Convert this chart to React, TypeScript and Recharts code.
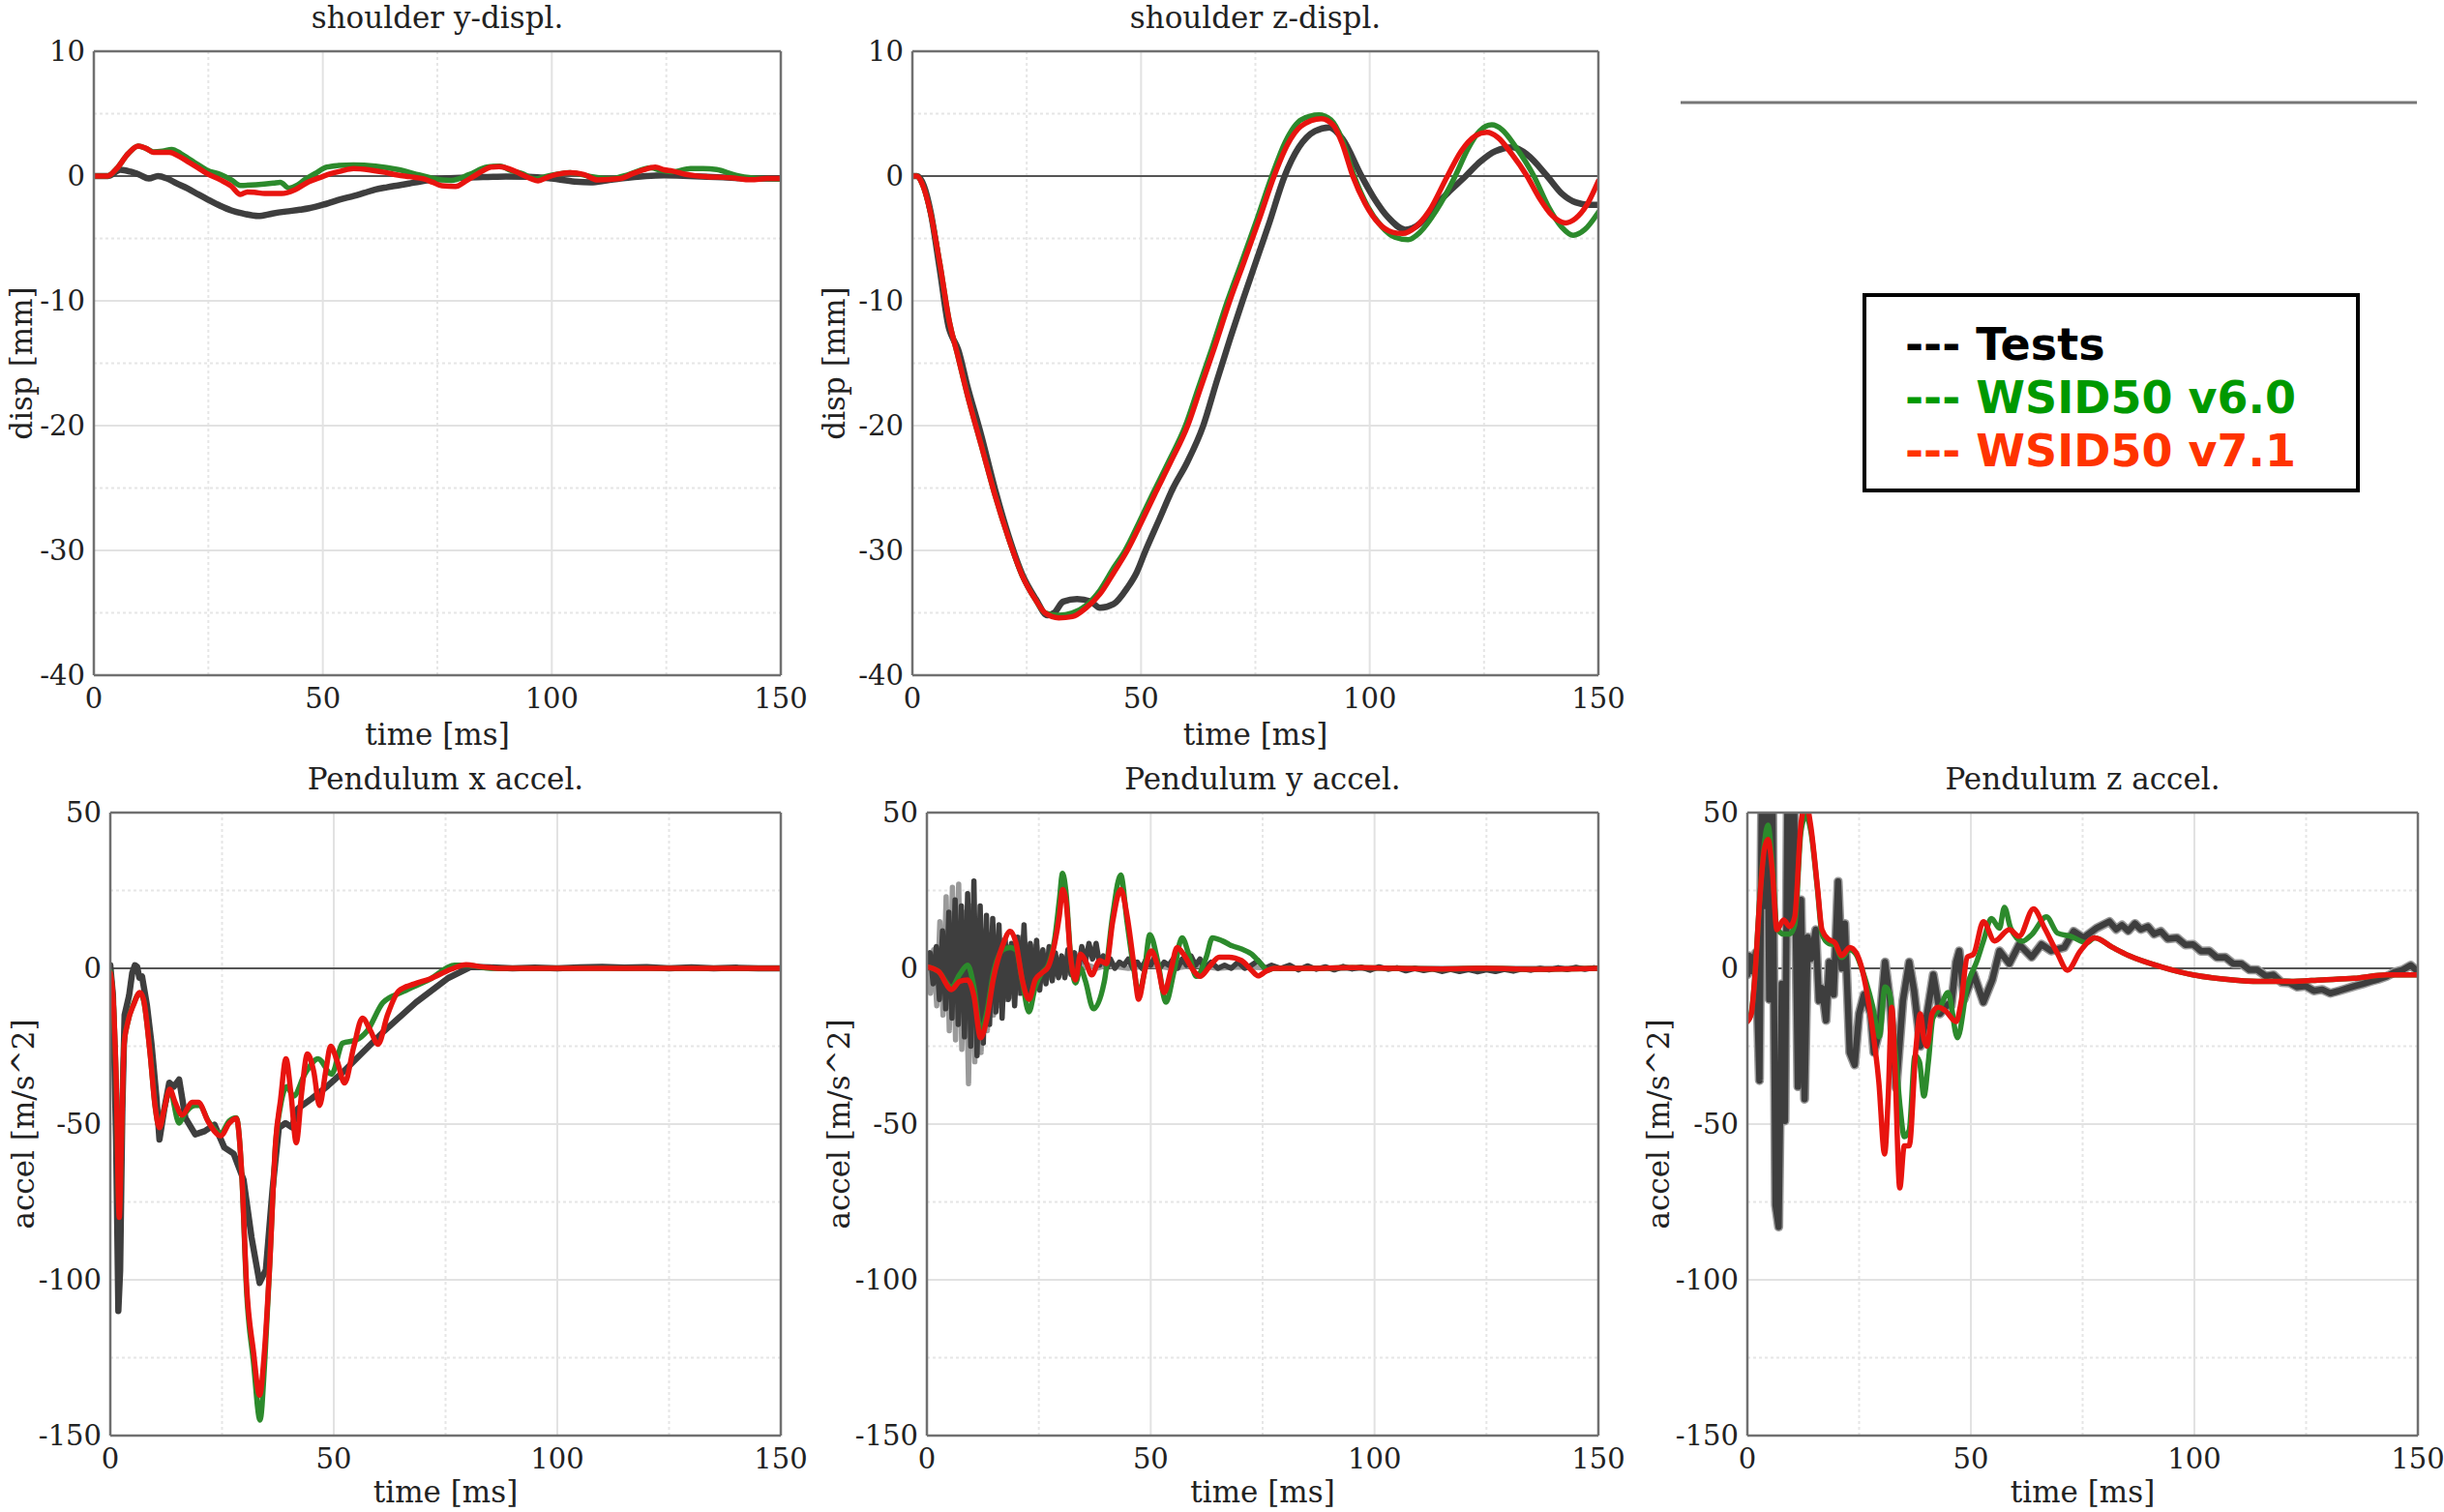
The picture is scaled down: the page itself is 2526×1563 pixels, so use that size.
import React from 'react';
import { LineChart, Line, XAxis, YAxis, ReferenceLine } from 'recharts';

type Pt = [number, number];

// ---------- axis ticks / labels ----------
const timeTicks = [0, 50, 100, 150];
const timeMajorGrid = [50, 100];
const timeMinorGrid = [25, 75, 125];
const dispTicks = [-40, -30, -20, -10, 0, 10];
const dispMinor = [-35, -25, -15, -5, 5];
const accelTicks = [-150, -100, -50, 0, 50];
const accelMinor = [-125, -75, -25, 25];
const legendLabels = ['Tests', 'WSID50 v6.0', 'WSID50 v7.1'];
const titles = ['shoulder y-displ.', 'shoulder z-displ.', 'Pendulum x accel.', 'Pendulum y accel.', 'Pendulum z accel.'];
const xLabel = 'time [ms]';
const dispLabel = 'disp [mm]';
const accelLabel = 'accel [m/s^2]';

// ---------- shoulder y-displ. ----------
const testShY: Pt[] = [[0,0],[3,0],[5.8,0.5],[8,0.35],[10,0.1],[12,-0.2],[14,0],[16,-0.2],[18,-0.57],[20.5,-1.0],[22.8,-1.47],[25,-1.9],[27.6,-2.38],[30,-2.75],[32.5,-3.0],[35.9,-3.2],[39,-3.0],[42,-2.84],[45,-2.7],[47,-2.58],[50,-2.3],[51.8,-2.1],[54,-1.85],[56.7,-1.6],[59,-1.35],[61.5,-1.08],[64,-0.9],[66.4,-0.75],[68.8,-0.6],[71.2,-0.44],[73.6,-0.32],[76,-0.23],[81,-0.13],[86,-0.07],[90,-0.03],[95,-0.05],[100,-0.2],[105,-0.44],[108.5,-0.5],[112,-0.35],[115,-0.2],[120.6,0],[124.5,0.05],[130,0],[134,-0.05],[140,-0.15],[143.5,-0.2],[150,-0.2]];
const v60ShY: Pt[] = [[0,0],[3,0],[5,0.6],[7.5,1.8],[9.7,2.4],[11.5,2.2],[13,1.94],[15,2.0],[17,2.14],[19,1.8],[20.8,1.37],[22.8,0.9],[24.7,0.47],[27.6,0.13],[30,-0.3],[32,-0.75],[35.4,-0.7],[39.2,-0.57],[40.7,-0.5],[42.6,-0.96],[44.5,-0.7],[46,-0.3],[48.5,0.25],[50.9,0.72],[53.5,0.85],[56.7,0.9],[61.5,0.8],[66.4,0.52],[71.2,0.08],[76,-0.31],[78,-0.34],[82,0.13],[85.8,0.72],[88.7,0.8],[91,0.45],[93.5,0.2],[96.4,-0.23],[98.5,-0.05],[101,0.13],[104,0.28],[108,0],[113,-0.2],[116.8,0.13],[121.6,0.65],[124,0.45],[126.4,0.35],[130.3,0.6],[133,0.6],[136,0.52],[140,0.08],[143.5,-0.13],[150,-0.23]];
const v71ShY: Pt[] = [[0,0],[3,0],[5,0.6],[7.5,1.8],[9.7,2.4],[11.5,2.2],[13,1.9],[16.5,1.9],[18.5,1.6],[20.8,1.1],[22.8,0.65],[24.7,0.2],[27.6,-0.3],[30,-0.8],[32,-1.47],[33.5,-1.27],[35,-1.3],[37.3,-1.4],[41,-1.4],[44,-1.08],[47,-0.44],[49.5,-0.1],[51.8,0.2],[54,0.4],[56.7,0.6],[60.6,0.47],[63.5,0.3],[66.4,0.08],[69,-0.05],[72,-0.23],[74,-0.5],[76,-0.78],[79,-0.83],[81,-0.45],[82.8,-0.05],[84.8,0.4],[86.7,0.72],[88.5,0.75],[90.6,0.6],[93,0.2],[95.4,-0.2],[97,-0.39],[99,-0.1],[101,0.13],[104,0.28],[107,0.13],[110,-0.31],[115,-0.2],[117.7,0.2],[120,0.5],[122.6,0.72],[124.5,0.5],[126.4,0.4],[129,0.15],[131.3,0.03],[134,-0.05],[139,-0.13],[143.5,-0.3],[147,-0.2],[150,-0.2]];

// ---------- shoulder z-displ. ----------
const testShZ: Pt[] = [[0,0],[1,0],[2.5,-0.77],[4,-2.9],[6,-7.5],[8,-12.2],[8.6,-12.8],[10,-13.9],[12,-16.8],[15,-20.7],[18,-25],[21,-28.8],[24,-31.9],[27,-33.9],[29.5,-35.2],[31,-35],[33,-34.1],[36,-33.9],[39,-34.1],[41,-34.6],[44,-34.3],[47,-33],[49,-31.8],[51,-30],[54,-27.5],[57,-25],[60,-23],[63.6,-20],[66.5,-16.5],[69.5,-13],[72.2,-10],[75,-7],[78,-3.8],[81.4,0],[84.5,2.3],[88,3.6],[91.2,3.9],[94,3.0],[98.2,0],[101,-1.8],[104,-3.3],[107.8,-4.3],[111,-3.8],[114,-2.5],[117.5,-1.2],[121,0],[124,1.1],[127.5,2.0],[131.3,2.3],[134.5,1.7],[138.8,0],[142,-1.4],[145,-2.1],[148,-2.3],[150,-2.3]];
const v60ShZ: Pt[] = [[0,0],[1,0],[2,-0.5],[4,-3],[6,-7],[8,-11.5],[10,-14.5],[12,-17.5],[15,-21.5],[18,-25.5],[21,-29],[24,-32],[27,-34],[29,-35],[32,-35.2],[35,-35],[38,-34.4],[41,-33.2],[44,-31.4],[46.5,-30],[49.5,-27.8],[52.5,-25.5],[56,-22.9],[59.7,-20],[62.5,-17],[65.5,-13.8],[68.9,-10],[72,-6.9],[75.5,-3.3],[78.6,0],[81.5,2.7],[85,4.5],[88.9,4.9],[91.5,4.5],[94,2.9],[96.6,0],[99.5,-2.4],[102.5,-4.0],[105.5,-4.9],[108.4,-5.1],[111,-4.5],[114.5,-2.8],[118.7,0],[121.5,2.2],[124,3.6],[126.7,4.1],[129,3.7],[132,2.3],[135.9,0],[139,-2.4],[142,-4.1],[144.5,-4.75],[147,-4.3],[150,-2.9]];
const v71ShZ: Pt[] = [[0,0],[1,0],[2,-0.5],[4,-3],[6,-7],[8,-11.5],[10,-14.5],[12,-17.5],[15,-21.5],[18,-25.5],[21,-29],[24,-32],[27,-34],[29,-35],[32,-35.4],[35,-35.3],[38,-34.6],[41,-33.5],[44,-31.8],[47,-30],[50,-27.8],[53,-25.5],[56.5,-22.9],[60.2,-20],[63,-17],[66,-13.8],[69.4,-10],[72.5,-6.9],[76,-3.3],[79.1,0],[82,2.5],[85,4.0],[89.4,4.6],[92,4.1],[94,2.6],[96.3,0],[99,-2.2],[102,-3.8],[105,-4.5],[107.2,-4.6],[110,-4.1],[113,-2.8],[117,0],[120,2.0],[123,3.2],[125.6,3.5],[128,3.1],[131,1.8],[134.4,0],[137,-1.7],[140,-3.2],[142.8,-3.75],[145,-3.4],[147.5,-2.3],[150,-0.4]];

// ---------- Pendulum x accel. ----------
const testPX: Pt[] = [[0,1],[0.6,-8.8],[1.3,-55],[1.8,-110],[2.2,-97],[2.7,-45],[3.2,-15],[4.2,-8.8],[4.9,-1.5],[5.5,1],[6,0.5],[6.5,-3],[7.1,-2.6],[8.2,-11.9],[9.2,-24],[10.3,-41],[11,-55],[12.1,-45],[13.2,-36.7],[14.2,-38],[15.4,-35.7],[16.8,-48],[19,-53.3],[21.1,-52.3],[23.3,-50.2],[25.5,-57.5],[27.6,-59.5],[29.8,-67.8],[31.6,-86.4],[33.4,-101],[34.8,-96.8],[36.3,-70.9],[37.7,-51.2],[39.2,-49.7],[40.6,-51],[42,-45],[45,-41.9],[48.6,-37.8],[52.2,-33.1],[54,-30.5],[61.2,-20.2],[68.4,-10.9],[75.6,-3.1],[80.7,0.5],[85,0.3],[90,0],[95,0.2],[100,0],[105,0.3],[110,0.5],[115,0.2],[120,0.4],[125,0],[130,0.3],[135,0],[140,0.2],[145,0],[150,0]];
const v60PX: Pt[] = [[0,-1],[0.6,-9],[1.3,-35],[2,-78],[2.5,-55],[3.1,-24],[3.8,-18],[5.3,-11],[6.6,-8],[7.4,-10],[8.9,-27],[10,-44],[11,-51],[12.1,-45],[13.3,-39],[15.4,-49.7],[16.5,-47],[19,-44],[20,-44],[21.9,-49],[24.7,-53],[26.6,-49],[28.2,-48],[29.4,-66],[30.5,-104],[32,-126],[33.5,-145],[34.6,-125],[35.6,-97],[37,-56],[38.1,-44],[39.5,-38],[41,-41],[43.5,-34],[46.5,-29],[49.5,-34],[52,-24],[55,-23],[57.5,-20],[61,-11],[65.5,-7.5],[71.5,-3.5],[77,1],[80,1],[85,0],[100,0],[120,0],[150,0]];
const v71PX: Pt[] = [[0,-1.5],[0.6,-8.8],[1.3,-34.7],[2,-80],[2.5,-55],[3.1,-24.3],[3.8,-18],[5.3,-11.4],[6.6,-7.8],[7.4,-9.8],[8.9,-27.4],[10,-44],[11,-51.2],[12.1,-45],[13.3,-38.8],[14.5,-43],[16.1,-47.1],[18.3,-43],[19.7,-43],[21.9,-49.2],[24.7,-53.8],[26.6,-49.7],[28.2,-48.1],[29.4,-65.7],[30.5,-102],[32,-122.7],[33.4,-137],[34.5,-122.7],[35.6,-96.8],[37,-55.4],[38.1,-42],[39.3,-29],[40.4,-40],[41.6,-56],[42.8,-40],[44.1,-27.5],[45.5,-33],[46.8,-44],[48.2,-33],[49.3,-25],[50.8,-30],[52.4,-36.8],[54.5,-25],[56.4,-16],[58.2,-20],[59.9,-24.4],[62,-15],[64.5,-7.3],[68,-5],[71.5,-3.4],[76.2,-0.3],[79.6,1.2],[83,0.5],[88,0],[100,0],[120,0],[150,0]];

// ---------- Pendulum y accel. ----------
const testPYa: Pt[] = [[0,0],[0.7,5],[1.4,-5],[2.1,7],[2.8,-10],[3.5,12],[4.2,-13],[4.9,18],[5.6,-16],[6.3,22],[7.0,-18],[7.7,20],[8.4,-22],[9.1,24],[9.8,-25],[10.5,28],[11.2,-28],[11.9,20],[12.6,-24],[13.3,17],[14.0,-18],[14.7,16],[15.4,-14],[16.1,14],[16.8,-16],[17.5,9],[18.2,-10],[18.9,8],[19.6,-12],[20.3,10],[21.0,-8],[21.7,14],[22.4,-10],[23.1,8],[23.8,-6],[24.5,9],[25.2,-7],[25.9,6],[26.6,-5],[27.3,7],[28,-4],[28.7,5],[29.4,-3],[30.1,4],[30.8,-3],[31.5,6],[32.2,-2],[33,5],[33.8,-1],[34.6,7],[35.4,2],[36.2,8],[37,3],[37.8,8],[38.6,1],[39.4,4],[40.2,0],[41,3],[42,0],[43,2],[44,1],[45,3],[46,0],[47,2],[48,0],[49,3],[50,1],[51,4],[52,0],[53,2],[54,1],[55,3],[56,0],[57,3],[58,1],[59,4],[60,1],[61,3],[62,0],[63.5,2],[65,0],[66.5,1],[68,0],[69.5,2],[71,0],[72.5,1],[74,2.5],[75.5,0],[77,1],[79,0],[81,1],[83,-0.5],[85,0.8],[87,-0.3],[89,0.5],[91,-0.5],[93,0.6],[95,-0.2],[97,0.4],[99,-0.6],[101,0.5],[103,-0.3],[105,0.2],[107,-0.8],[109,0],[111,-0.7],[113,-0.2],[115,-1],[117,-0.3],[119,-1],[121,-0.4],[123,-1.1],[125,-0.5],[127,-1],[129,-0.3],[131,-0.9],[133,-0.2],[135,-0.6],[137,0],[139,-0.5],[141,0.2],[143,-0.4],[145,0.3],[147,-0.3],[149,0.2],[150,0]];
const testPYb: Pt[] = [[0,0],[0.8,-8],[1.5,6],[2.2,-12],[2.9,15],[3.6,-15],[4.3,23],[5,-20],[5.7,26],[6.4,-23],[7.1,27],[7.8,-26],[8.5,18],[9.3,-37],[10,20],[10.7,-30],[11.4,15],[12.1,-27],[12.8,12],[13.5,-20],[14.2,10],[14.9,-15],[15.6,8],[16.3,-12],[17,9],[17.7,-10],[18.4,7],[19.1,-9],[19.8,8],[20.5,-8],[21.2,10],[21.9,-7],[22.6,6],[23.3,-6],[24,7],[24.7,-5],[25.4,5],[26.1,-4],[26.8,4],[27.5,-3],[28.2,4],[29,-2],[30,3],[31,-2],[32,3],[33,0],[34,2],[35,0],[36,1],[38,0],[40,1],[45,0],[50,1],[55,0],[60,1],[65,0],[70,0.5],[80,0],[150,0]];
const v60PY: Pt[] = [[0,0.5],[2.6,-1],[5.5,-6],[7.3,-2],[9.1,1],[10.5,-6],[12,-20],[13.4,-14],[14.8,-2],[17,6],[18.6,6.7],[19.9,6],[21.3,-4],[22.8,-14],[24.2,-6],[25.6,-1.6],[27.1,1],[28.5,9],[29.6,22],[30.3,30.5],[31.1,24],[32.1,4],[33.2,-4.7],[34.3,0],[35.4,-4],[37.2,-13],[39.7,-3.7],[41.5,17],[43.3,30],[44.7,15],[46.2,0],[47.3,-7.8],[48.5,-2],[49.8,10.8],[51.6,2],[53.4,-10.9],[55.2,-1],[57,9.8],[58.6,4],[60.2,-2.6],[62.4,3.6],[63.8,9.8],[66,8.8],[68.2,7.2],[70.3,6.2],[72.5,4.6],[74.6,1.5],[76.1,-0.6],[77.5,0],[85,0],[95,0.2],[105,0],[115,-0.2],[125,0],[135,-0.3],[150,0]];
const v71PY: Pt[] = [[0,0.5],[2.6,-1],[5.5,-6.8],[7.3,-4.2],[9.1,-3.7],[10.5,-8.8],[12,-22.3],[13.4,-16.1],[14.8,-3.7],[17,7.7],[18.6,11.9],[19.9,8.2],[21.3,-3.7],[22.8,-9.9],[24.2,-3.7],[25.6,-1.6],[27.1,0.5],[28.5,7.7],[29.6,17],[30.3,25.3],[31.1,21.2],[32.1,3.6],[33.2,-3.7],[34.3,4.6],[35.4,2.5],[36.8,-2.1],[38.6,2.5],[40.1,1.5],[41.5,15],[43.3,25.3],[44.7,17],[46.2,1.5],[47.3,-9.9],[48.7,-0.6],[50.1,5.6],[51.6,0.5],[53,-7.8],[54.5,-0.6],[55.9,6.7],[57.3,4.6],[59.5,-0.6],[61,-2.6],[63.1,0.5],[65.3,3.6],[67.4,3.6],[70.3,2.5],[72.5,-0.6],[74,-2.4],[75.7,-1],[77.5,0],[85,0],[95,0.2],[105,0],[115,-0.2],[125,0],[135,-0.3],[150,0]];

// ---------- Pendulum z accel. ----------
const testPZ: Pt[] = [[0,-2],[0.5,4],[1.2,-1],[1.9,5],[2.7,-36],[3.3,70],[3.9,20],[4.4,75],[4.9,-10],[5.5,80],[6.3,-76],[7,-83],[7.7,-5],[8.4,-49],[9,60],[9.6,15],[10.2,80],[11.3,-38],[12,22],[12.8,-42],[13.5,10],[14.2,3],[15.3,12.4],[16,-10.4],[16.7,-6.3],[17.6,-16.7],[18.3,2],[19.3,-8.4],[20.3,27.9],[21.1,0],[21.8,14.4],[22.9,-27],[24,-31],[25,-14.6],[26.1,-8.4],[27.6,-14.6],[28.3,-27],[29.4,-20.8],[30.8,2],[31.9,-10.4],[33.3,-38.4],[34.8,-10.4],[36.2,2],[37.3,-7.3],[38.7,-25],[40.2,-14.6],[41.6,-2],[43.1,-14.6],[44.9,-11.5],[45.6,-12],[46.7,2],[47.4,5.6],[48.5,-9.9],[50.6,-1.6],[52.8,-10.9],[54.8,-3.7],[56.4,5.6],[58.6,1.5],[60.8,7.7],[63.6,3.6],[65.8,7.7],[68,5.6],[70.9,6.7],[73,11.9],[75.2,9.8],[78.1,12.9],[81,15],[82.5,12.5],[83.8,13.9],[85.2,12],[86.7,14.4],[88,12.5],[89.6,13.4],[91,11],[92.5,11.9],[94,9.5],[96.1,9.8],[98,7.5],[99.7,7.7],[101.5,5.5],[103.3,5.6],[105,3.5],[106.9,3.6],[108.7,1.5],[110.5,1.5],[112.3,-0.5],[114.1,-0.5],[116,-2.5],[117.7,-2.1],[119.5,-4.5],[121.3,-4.7],[123,-6],[124.9,-5.7],[126.7,-7.2],[128.6,-6.8],[130.4,-8],[132.2,-7.3],[134,-6.5],[135.8,-5.7],[137.6,-5],[139.4,-4.2],[141.2,-3.5],[143,-2.6],[144.8,-1.2],[146.6,-0.5],[148.4,1],[150,-1]];
const v60PZ: Pt[] = [[0,-17],[0.9,-14],[1.6,-4],[2.7,21],[3.8,40],[4.6,46],[5.6,33],[6.6,13],[8.1,11],[9.5,11],[10.6,14],[12,44],[13.1,49],[14.2,44],[15.7,25],[16.7,11],[18.2,8],[19.6,7.5],[21.1,3.5],[22.9,6],[24.3,4.5],[25.8,-1],[28,-12],[29.5,-22],[30.8,-6],[31.8,-8],[33,-25],[34.2,-45],[35.1,-54],[36.2,-52],[37.5,-28],[38.5,-30],[39.5,-41],[40.5,-30],[41.5,-16],[43,-13],[44.9,-7.8],[47,-22.3],[49.2,-5.7],[51.4,2.5],[52.8,8.7],[54.6,16],[56.4,12.9],[57.5,19.6],[58.9,12.9],[61.5,8.7],[63.6,10.8],[66.9,16.5],[69.4,11.3],[72.3,10.3],[75.9,8.2],[77.7,9.8],[81.7,6.7],[85.3,4.1],[92.5,0.5],[99.7,-2.1],[106.9,-3.5],[114.1,-4.2],[121.3,-4.2],[128.6,-3.7],[135.8,-3.2],[143,-2.1],[150,-2.1]];
const v71PZ: Pt[] = [[0,-17.1],[0.9,-14.5],[1.6,-4.2],[2.7,20.6],[3.8,38.3],[4.6,41.4],[5.6,31],[6.6,12.4],[8.1,15.5],[9.5,13.4],[10.6,16.5],[12,46.5],[13.1,53],[14.2,45.5],[15.7,25.8],[16.7,12.4],[18.2,9.3],[19.6,8.2],[21.1,4.1],[22.9,6.7],[24.3,5.1],[25.8,-1.1],[27.6,-15.6],[29.4,-36.3],[30.7,-59.6],[31.5,-41.4],[32.3,-12.5],[33,-31],[34.1,-70.5],[35.1,-57],[36.2,-57],[37.7,-25.8],[38.7,-14.6],[39.5,-22.8],[40.2,-25],[41.3,-14.6],[42.7,-12.5],[44.2,-13.5],[46.7,-17.1],[47.8,-10.9],[49.2,3.6],[50.6,4.6],[52.8,15],[55.3,8.8],[58.6,12.4],[60.8,10.3],[64,19.1],[66.5,12.9],[69.4,4.7],[71.6,-0.6],[74.5,5.6],[77.7,9.8],[81.7,6.7],[85.3,4.1],[92.5,0.5],[99.7,-2.1],[106.9,-3.5],[114.1,-4.2],[121.3,-4.2],[128.6,-3.7],[135.8,-3.2],[143,-2.1],[150,-2.1]];

// ---------- styling ----------
const SERIF = '"DejaVu Serif", serif';
const SANS = '"DejaVu Sans", Verdana, sans-serif';
const TEXT = '#222';
const C_TEST = '#3e3e3e';
const C_TEST_LIGHT = '#9a9a9a';
const C_V60 = '#2c8a2c';
const C_V71 = '#e8140f';
const GRID = '#e2e2e2';
const GRID_MINOR = '#e6e6e6';
const BORDER = '#707070';

const toRows = (pts: Pt[]) => pts.map(([t, v]) => ({ t, v }));

type Curve = 'linear' | 'monotone';
type Series = { key: string; data: Pt[]; color: string; width: number; curve: Curve };
type PanelProps = {
  x: number; y: number; w: number; h: number;
  yDomain: [number, number]; yTicks: number[]; yMinor: number[];
  series: Series[];
};

function Panel({ x, y, w, h, yDomain, yTicks, yMinor, series }: PanelProps) {
  const ML = 120, MR = 50, MT = 20, XH = 60;
  const W = ML + w + MR;
  const H = MT + h + XH;
  const tickStyle = { fontFamily: SERIF, fontSize: 29, fill: TEXT };
  const majorY = yTicks.filter((v) => v !== 0 && v !== yDomain[0] && v !== yDomain[1]);
  return (
    <div style={{ position: 'absolute', left: x - ML, top: y - MT }}>
      <LineChart width={W} height={H} margin={{ top: MT, right: MR, bottom: 0, left: 0 }}>
        <XAxis type="number" dataKey="t" domain={[0, 150]} ticks={timeTicks} interval={0} allowDataOverflow
          height={XH} axisLine={false} tickLine={false} tickSize={6} tickMargin={7} tick={tickStyle} />
        <YAxis type="number" dataKey="v" domain={yDomain} ticks={yTicks} interval={0} allowDataOverflow
          width={ML} axisLine={false} tickLine={false} tickSize={6} tickMargin={3} tick={tickStyle} />
        {timeMinorGrid.map((t) => (
          <ReferenceLine key={'xm' + t} x={t} stroke={GRID_MINOR} strokeWidth={2} strokeDasharray="3 3" />
        ))}
        {timeMajorGrid.map((t) => (
          <ReferenceLine key={'xM' + t} x={t} stroke={GRID} strokeWidth={2} />
        ))}
        {yMinor.map((v) => (
          <ReferenceLine key={'ym' + v} y={v} stroke={GRID_MINOR} strokeWidth={2} strokeDasharray="3 3" />
        ))}
        {majorY.map((v) => (
          <ReferenceLine key={'yM' + v} y={v} stroke={GRID} strokeWidth={2} />
        ))}
        <ReferenceLine y={0} stroke="#555" strokeWidth={2} />
        {series.map((s) => (
          <Line key={s.key} data={toRows(s.data)} dataKey="v" type={s.curve} stroke={s.color}
            strokeWidth={s.width} dot={false} activeDot={false} isAnimationActive={false}
            strokeLinejoin="round" strokeLinecap="round" />
        ))}
        <ReferenceLine y={yDomain[1]} stroke={BORDER} strokeWidth={2.5} />
        <ReferenceLine y={yDomain[0]} stroke={BORDER} strokeWidth={2.5} />
        <ReferenceLine x={0} stroke={BORDER} strokeWidth={2.5} />
        <ReferenceLine x={150} stroke={BORDER} strokeWidth={2.5} />
      </LineChart>
    </div>
  );
}

type Geo = { x: number; y: number; w: number; h: number; yl: number };
const geo: Geo[] = [
  { x: 97, y: 53, w: 710, h: 645, yl: 33 },
  { x: 943, y: 53, w: 709, h: 645, yl: 873 },
  { x: 114, y: 840, w: 693, h: 644, yl: 35 },
  { x: 958, y: 840, w: 694, h: 644, yl: 878 },
  { x: 1806, y: 840, w: 693, h: 644, yl: 1725 },
];
const yLabels = [dispLabel, dispLabel, accelLabel, accelLabel, accelLabel];

const TW = 6.5;  // test line width
const MW = 5.5;  // model line width

export default function App() {
  const legendColors = ['#000000', '#009900', '#ff3300'];
  const legendBaselines = [372, 427, 482];
  return (
    <div style={{ position: 'absolute', left: 0, top: 0, width: 2526, height: 1563, background: '#fff', overflow: 'hidden' }}>
      <svg width={2526} height={1563} style={{ position: 'absolute', left: 0, top: 0 }}>
        {geo.map((g, i) => (
          <g key={'t' + i} fontFamily={SERIF} fill={TEXT}>
            <text x={g.x + g.w / 2} y={g.y - 24} textAnchor="middle" fontSize={31}>{titles[i]}</text>
            <text x={g.x + g.w / 2} y={Math.min(g.y + g.h + 72, 1553)} textAnchor="middle" fontSize={31}>{xLabel}</text>
            <text x={g.yl} y={g.y + g.h / 2} textAnchor="middle" fontSize={31}
              transform={`rotate(-90 ${g.yl} ${g.y + g.h / 2})`}>{yLabels[i]}</text>
          </g>
        ))}
        <line x1={1737} y1={106} x2={2498} y2={106} stroke="#777" strokeWidth={3} />
        <rect x={1927} y={305} width={510} height={202} fill="none" stroke="#000" strokeWidth={4} />
        {legendLabels.map((l, i) => (
          <text key={l} x={1969} y={legendBaselines[i]} fontFamily={SANS} fontWeight="bold" fontSize={46} fill={legendColors[i]}>
            {'--- ' + l}
          </text>
        ))}
      </svg>
      <Panel {...geo[0]} yDomain={[-40, 10]} yTicks={dispTicks} yMinor={dispMinor}
        series={[
          { key: 'test', data: testShY, color: C_TEST, width: TW, curve: 'monotone' },
          { key: 'v60', data: v60ShY, color: C_V60, width: MW, curve: 'monotone' },
          { key: 'v71', data: v71ShY, color: C_V71, width: MW, curve: 'monotone' },
        ]} />
      <Panel {...geo[1]} yDomain={[-40, 10]} yTicks={dispTicks} yMinor={dispMinor}
        series={[
          { key: 'test', data: testShZ, color: C_TEST, width: TW, curve: 'monotone' },
          { key: 'v60', data: v60ShZ, color: C_V60, width: MW, curve: 'monotone' },
          { key: 'v71', data: v71ShZ, color: C_V71, width: MW, curve: 'monotone' },
        ]} />
      <Panel {...geo[2]} yDomain={[-150, 50]} yTicks={accelTicks} yMinor={accelMinor}
        series={[
          { key: 'test', data: testPX, color: C_TEST, width: TW, curve: 'linear' },
          { key: 'v60', data: v60PX, color: C_V60, width: MW, curve: 'monotone' },
          { key: 'v71', data: v71PX, color: C_V71, width: MW, curve: 'monotone' },
        ]} />
      <Panel {...geo[3]} yDomain={[-150, 50]} yTicks={accelTicks} yMinor={accelMinor}
        series={[
          { key: 'testb', data: testPYb, color: C_TEST_LIGHT, width: 5.5, curve: 'linear' },
          { key: 'test', data: testPYa, color: C_TEST, width: 5.5, curve: 'linear' },
          { key: 'v60', data: v60PY, color: C_V60, width: MW, curve: 'monotone' },
          { key: 'v71', data: v71PY, color: C_V71, width: MW, curve: 'monotone' },
        ]} />
      <Panel {...geo[4]} yDomain={[-150, 50]} yTicks={accelTicks} yMinor={accelMinor}
        series={[
          { key: 'testhalo', data: testPZ, color: C_TEST_LIGHT, width: 9.5, curve: 'linear' },
          { key: 'test', data: testPZ, color: C_TEST, width: TW, curve: 'linear' },
          { key: 'v60', data: v60PZ, color: C_V60, width: MW, curve: 'monotone' },
          { key: 'v71', data: v71PZ, color: C_V71, width: MW, curve: 'monotone' },
        ]} />
    </div>
  );
}
